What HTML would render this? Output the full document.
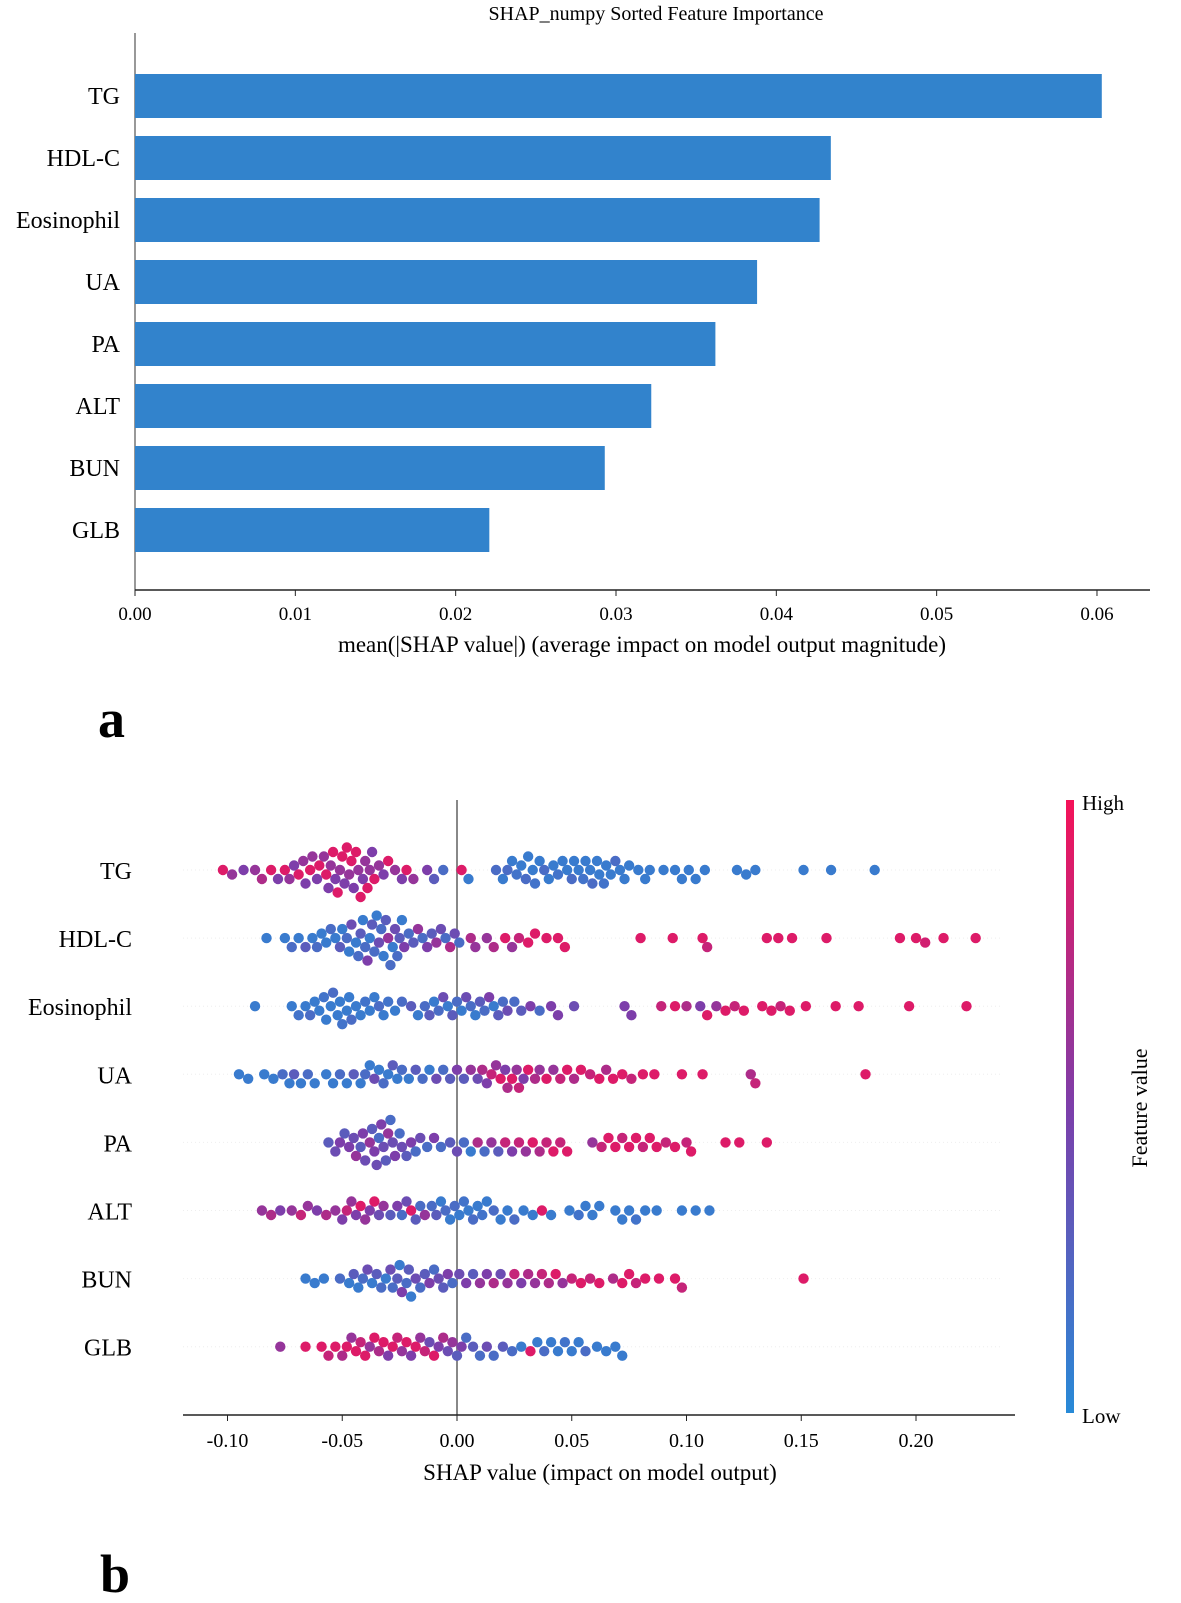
<!DOCTYPE html>
<html><head><meta charset="utf-8"><style>
html,body{margin:0;padding:0;background:#fff;}
svg{display:block;font-family:"Liberation Serif",serif;}
</style></head><body>
<svg id="fig" width="1181" height="1603" viewBox="0 0 1181 1603" xmlns="http://www.w3.org/2000/svg">
<defs><linearGradient id="cbg" x1="0" y1="0" x2="0" y2="1">
<stop offset="0" stop-color="rgb(245,18,88)"/><stop offset="0.5" stop-color="rgb(125,62,170)"/><stop offset="1" stop-color="rgb(40,138,215)"/></linearGradient></defs>
<g id="barChart">
<text x="656" y="20" text-anchor="middle" font-size="20">SHAP_numpy Sorted Feature Importance</text>
<line x1="135" y1="33" x2="135" y2="590" stroke="#555" stroke-width="1.2"/>
<line x1="135" y1="590" x2="1150" y2="590" stroke="#222" stroke-width="1.5"/>
<text x="642" y="652" text-anchor="middle" font-size="23">mean(|SHAP value|) (average impact on model output magnitude)</text>
</g>
<text x="98" y="737" font-size="54" font-weight="bold">a</text>
<g id="swarmChart">
<line x1="457" y1="800" x2="457" y2="1415" stroke="#888" stroke-width="2"/>
<line x1="183" y1="1415" x2="1015" y2="1415" stroke="#222" stroke-width="1.5"/>
<text x="600" y="1480" text-anchor="middle" font-size="23">SHAP value (impact on model output)</text>
<rect x="1066" y="800" width="8" height="613" fill="url(#cbg)"/>
<text x="1082" y="810" font-size="21">High</text>
<text x="1082" y="1423" font-size="21">Low</text>
<text transform="translate(1147,1108) rotate(-90)" text-anchor="middle" font-size="22">Feature value</text>
</g>
<text x="100" y="1592" font-size="54" font-weight="bold">b</text>
</svg>
<script>
const features=["TG","HDL-C","Eosinophil","UA","PA","ALT","BUN","GLB"];
const importance=[0.0603,0.0434,0.0427,0.0388,0.0362,0.0322,0.0293,0.0221];
const barTicks=[0,0.01,0.02,0.03,0.04,0.05,0.06];
const swarmTicks=[-0.10,-0.05,0,0.05,0.10,0.15,0.20];
// [shap value, feature value 0..1]
const tgPts=[[-0.102,0.9],[-0.098,0.6],[-0.093,0.5],[-0.088,0.6],[-0.085,0.7],[-0.081,0.9],[-0.078,0.5],[-0.075,0.9],[-0.073,0.6],[-0.071,0.5],[-0.069,0.9],[-0.067,0.6],[-0.066,0.5],[-0.064,0.9],[-0.063,0.6],[-0.061,0.5],[-0.060,0.9],[-0.058,0.6],[-0.057,0.9],[-0.056,0.5],[-0.055,0.6],[-0.054,0.9],[-0.053,0.5],[-0.052,0.9],[-0.051,0.6],[-0.050,0.9],[-0.049,0.5],[-0.048,0.9],[-0.047,0.6],[-0.046,0.9],[-0.045,0.5],[-0.044,0.9],[-0.043,0.6],[-0.042,0.9],[-0.041,0.5],[-0.040,0.6],[-0.039,0.9],[-0.038,0.6],[-0.037,0.5],[-0.036,0.9],[-0.034,0.6],[-0.032,0.5],[-0.030,0.9],[-0.027,0.6],[-0.024,0.5],[-0.022,0.9],[-0.019,0.6],[-0.013,0.5],[-0.010,0.3],[-0.006,0.2],[0.002,0.9],[0.005,0.1],
[0.017,0.2],[0.020,0.1],[0.022,0.2],[0.024,0.1],[0.026,0.15],[0.028,0.1],[0.030,0.2],[0.031,0.1],[0.033,0.1],[0.034,0.15],[0.036,0.1],[0.038,0.2],[0.040,0.1],[0.042,0.1],[0.044,0.15],[0.046,0.1],[0.048,0.1],[0.050,0.2],[0.051,0.1],[0.053,0.1],[0.055,0.15],[0.056,0.1],[0.058,0.1],[0.059,0.2],[0.061,0.1],[0.062,0.1],[0.064,0.15],[0.065,0.1],[0.067,0.1],[0.069,0.2],[0.071,0.1],[0.073,0.1],[0.075,0.1],[0.079,0.1],[0.082,0.1],[0.084,0.1],[0.090,0.1],[0.095,0.1],[0.098,0.1],[0.101,0.1],[0.104,0.1],[0.108,0.1],[0.122,0.1],[0.126,0.1],[0.130,0.1],[0.151,0.1],[0.163,0.1],[0.182,0.1]];
const hdlPts=[[-0.083,0.1],[-0.075,0.1],[-0.072,0.2],[-0.069,0.1],[-0.066,0.3],[-0.063,0.1],[-0.061,0.2],[-0.059,0.1],[-0.057,0.1],[-0.055,0.2],[-0.053,0.1],[-0.051,0.3],[-0.050,0.1],[-0.048,0.2],[-0.047,0.1],[-0.046,0.4],[-0.044,0.1],[-0.043,0.2],[-0.042,0.3],[-0.041,0.1],[-0.040,0.2],[-0.039,0.5],[-0.038,0.1],[-0.037,0.3],[-0.036,0.2],[-0.035,0.1],[-0.034,0.4],[-0.033,0.2],[-0.032,0.1],[-0.031,0.3],[-0.030,0.6],[-0.029,0.2],[-0.028,0.1],[-0.027,0.4],[-0.026,0.2],[-0.025,0.3],[-0.024,0.1],[-0.023,0.5],[-0.021,0.2],[-0.019,0.3],[-0.017,0.6],[-0.015,0.2],[-0.013,0.5],[-0.011,0.3],[-0.009,0.6],[-0.007,0.4],[-0.005,0.2],[-0.003,0.7],[-0.001,0.4],[0.001,0.2],[0.006,0.7],[0.008,0.6],[0.013,0.6],[0.016,0.7],[0.021,0.9],[0.024,0.6],[0.027,0.8],[0.031,0.9],[0.034,0.9],[0.039,0.9],[0.044,0.9],[0.047,0.9],[0.080,0.9],[0.094,0.9],[0.107,0.9],[0.109,0.8],[0.135,0.9],[0.140,0.9],[0.146,0.9],[0.161,0.9],[0.193,0.9],[0.200,0.9],[0.204,0.85],[0.212,0.9],[0.226,0.9]];
const eosPts=[[-0.088,0.1],[-0.072,0.1],[-0.069,0.15],[-0.066,0.1],[-0.064,0.2],[-0.062,0.1],[-0.060,0.1],[-0.058,0.15],[-0.057,0.1],[-0.055,0.1],[-0.054,0.2],[-0.052,0.1],[-0.051,0.1],[-0.050,0.15],[-0.048,0.1],[-0.047,0.1],[-0.046,0.2],[-0.044,0.1],[-0.042,0.1],[-0.040,0.15],[-0.038,0.1],[-0.036,0.1],[-0.034,0.2],[-0.032,0.1],[-0.030,0.15],[-0.027,0.1],[-0.024,0.2],[-0.020,0.3],[-0.017,0.1],[-0.014,0.2],[-0.012,0.3],[-0.010,0.1],[-0.008,0.2],[-0.006,0.4],[-0.004,0.1],[-0.002,0.3],[0.000,0.2],[0.002,0.1],[0.004,0.4],[0.006,0.2],[0.008,0.1],[0.010,0.3],[0.012,0.2],[0.014,0.5],[0.016,0.1],[0.018,0.3],[0.020,0.2],[0.022,0.4],[0.025,0.2],[0.028,0.3],[0.032,0.5],[0.036,0.2],[0.041,0.5],[0.044,0.5],[0.051,0.4],[0.073,0.5],[0.076,0.5],[0.089,0.8],[0.095,0.9],[0.100,0.7],[0.106,0.5],[0.109,0.9],[0.113,0.6],[0.117,0.9],[0.121,0.8],[0.125,0.9],[0.133,0.9],[0.137,0.9],[0.141,0.8],[0.145,0.9],[0.152,0.9],[0.165,0.9],[0.175,0.9],[0.197,0.9],[0.222,0.9]];
const uaPts=[[-0.095,0.1],[-0.091,0.1],[-0.084,0.1],[-0.080,0.1],[-0.076,0.2],[-0.073,0.1],[-0.071,0.3],[-0.068,0.1],[-0.065,0.2],[-0.062,0.1],[-0.057,0.1],[-0.054,0.1],[-0.051,0.2],[-0.048,0.1],[-0.045,0.3],[-0.042,0.1],[-0.040,0.2],[-0.038,0.1],[-0.036,0.4],[-0.034,0.1],[-0.032,0.2],[-0.030,0.1],[-0.028,0.3],[-0.026,0.1],[-0.024,0.2],[-0.021,0.1],[-0.018,0.3],[-0.015,0.2],[-0.012,0.1],[-0.009,0.4],[-0.006,0.2],[-0.003,0.3],[0.000,0.5],[0.003,0.3],[0.006,0.6],[0.009,0.4],[0.011,0.7],[0.013,0.5],[0.015,0.8],[0.017,0.6],[0.019,0.9],[0.021,0.5],[0.022,0.7],[0.024,0.9],[0.026,0.6],[0.027,0.8],[0.029,0.5],[0.031,0.9],[0.034,0.7],[0.036,0.6],[0.039,0.9],[0.042,0.6],[0.045,0.8],[0.048,0.9],[0.051,0.7],[0.054,0.9],[0.058,0.8],[0.062,0.9],[0.065,0.7],[0.068,0.9],[0.072,0.9],[0.076,0.8],[0.081,0.9],[0.086,0.9],[0.098,0.9],[0.107,0.9],[0.128,0.7],[0.130,0.8],[0.178,0.9]];
const paPts=[[-0.056,0.3],[-0.053,0.4],[-0.051,0.5],[-0.049,0.3],[-0.047,0.5],[-0.045,0.4],[-0.044,0.6],[-0.042,0.3],[-0.041,0.5],[-0.040,0.4],[-0.038,0.6],[-0.037,0.3],[-0.036,0.5],[-0.035,0.4],[-0.034,0.2],[-0.033,0.5],[-0.032,0.4],[-0.031,0.3],[-0.030,0.6],[-0.029,0.2],[-0.028,0.4],[-0.027,0.5],[-0.025,0.2],[-0.024,0.4],[-0.022,0.3],[-0.020,0.5],[-0.018,0.2],[-0.016,0.4],[-0.013,0.2],[-0.010,0.5],[-0.007,0.2],[-0.003,0.3],[0.000,0.4],[0.003,0.2],[0.006,0.1],[0.009,0.7],[0.012,0.2],[0.015,0.6],[0.018,0.3],[0.021,0.8],[0.024,0.5],[0.027,0.8],[0.030,0.6],[0.033,0.9],[0.036,0.7],[0.039,0.8],[0.042,0.9],[0.045,0.8],[0.048,0.9],[0.059,0.6],[0.063,0.8],[0.066,0.9],[0.069,0.9],[0.072,0.8],[0.075,0.9],[0.078,0.9],[0.081,0.8],[0.084,0.9],[0.087,0.9],[0.091,0.8],[0.095,0.9],[0.100,0.8],[0.102,0.9],[0.117,0.9],[0.123,0.9],[0.135,0.9]];
const altPts=[[-0.085,0.6],[-0.081,0.7],[-0.077,0.5],[-0.072,0.6],[-0.068,0.8],[-0.065,0.6],[-0.061,0.5],[-0.057,0.7],[-0.053,0.6],[-0.050,0.5],[-0.048,0.8],[-0.046,0.6],[-0.044,0.5],[-0.042,0.9],[-0.040,0.6],[-0.038,0.5],[-0.036,0.9],[-0.034,0.4],[-0.032,0.6],[-0.029,0.3],[-0.026,0.5],[-0.024,0.2],[-0.022,0.4],[-0.020,0.9],[-0.018,0.3],[-0.016,0.2],[-0.014,0.6],[-0.011,0.2],[-0.009,0.3],[-0.007,0.1],[-0.005,0.2],[-0.003,0.1],[-0.001,0.2],[0.001,0.1],[0.003,0.15],[0.005,0.1],[0.007,0.2],[0.009,0.1],[0.011,0.15],[0.013,0.1],[0.016,0.2],[0.019,0.1],[0.022,0.1],[0.025,0.2],[0.029,0.1],[0.033,0.1],[0.037,0.9],[0.041,0.1],[0.049,0.1],[0.053,0.15],[0.056,0.1],[0.059,0.1],[0.062,0.1],[0.069,0.1],[0.072,0.1],[0.075,0.1],[0.078,0.15],[0.082,0.1],[0.087,0.1],[0.098,0.1],[0.104,0.1],[0.110,0.1]];
const bunPts=[[-0.066,0.1],[-0.062,0.1],[-0.058,0.1],[-0.051,0.2],[-0.047,0.1],[-0.045,0.3],[-0.043,0.1],[-0.041,0.2],[-0.039,0.4],[-0.037,0.1],[-0.035,0.3],[-0.033,0.2],[-0.031,0.1],[-0.029,0.4],[-0.028,0.2],[-0.026,0.3],[-0.025,0.1],[-0.024,0.5],[-0.022,0.2],[-0.021,0.3],[-0.020,0.1],[-0.018,0.4],[-0.016,0.2],[-0.014,0.3],[-0.012,0.5],[-0.010,0.2],[-0.008,0.4],[-0.006,0.3],[-0.004,0.5],[-0.002,0.2],[0.001,0.4],[0.004,0.5],[0.007,0.3],[0.010,0.6],[0.013,0.5],[0.016,0.7],[0.019,0.4],[0.022,0.6],[0.025,0.8],[0.028,0.5],[0.031,0.7],[0.034,0.6],[0.037,0.8],[0.040,0.7],[0.043,0.9],[0.046,0.6],[0.050,0.8],[0.054,0.9],[0.058,0.8],[0.062,0.9],[0.068,0.7],[0.072,0.9],[0.075,0.9],[0.078,0.8],[0.082,0.9],[0.088,0.9],[0.095,0.9],[0.098,0.8],[0.151,0.9]];
const glbPts=[[-0.077,0.6],[-0.066,0.9],[-0.059,0.9],[-0.056,0.8],[-0.053,0.9],[-0.050,0.7],[-0.048,0.9],[-0.046,0.6],[-0.044,0.9],[-0.042,0.8],[-0.040,0.9],[-0.038,0.6],[-0.036,0.9],[-0.034,0.7],[-0.032,0.9],[-0.030,0.5],[-0.028,0.9],[-0.026,0.8],[-0.024,0.6],[-0.022,0.9],[-0.020,0.5],[-0.018,0.9],[-0.016,0.6],[-0.014,0.8],[-0.012,0.4],[-0.010,0.9],[-0.008,0.5],[-0.006,0.7],[-0.004,0.4],[-0.002,0.6],[0.000,0.3],[0.002,0.5],[0.004,0.2],[0.007,0.3],[0.010,0.2],[0.013,0.4],[0.016,0.2],[0.020,0.3],[0.024,0.2],[0.028,0.1],[0.032,0.9],[0.035,0.1],[0.038,0.2],[0.041,0.1],[0.044,0.1],[0.047,0.15],[0.050,0.1],[0.053,0.1],[0.056,0.2],[0.061,0.1],[0.065,0.1],[0.069,0.1],[0.072,0.1]];
const swarmRows=[tgPts,hdlPts,eosPts,uaPts,paPts,altPts,bunPts,glbPts];

const NS="http://www.w3.org/2000/svg";
function mk(tag,attrs,parent,txt){const e=document.createElementNS(NS,tag);for(const k in attrs)e.setAttribute(k,attrs[k]);if(txt!==undefined)e.textContent=txt;parent.appendChild(e);return e;}
const bx=v=>135+v*16033;
const by=i=>96+i*62;
const bar=document.getElementById('barChart');
features.forEach((f,i)=>{
  const r=mk('rect',{x:135,y:by(i)-22,width:bx(importance[i])-135,height:44,fill:'#3283cc'},bar);
  
  
  const t=mk('text',{x:120,y:by(i)+8,'text-anchor':'end','font-size':24},bar,f);
  
  
});
barTicks.forEach(v=>{
  mk('line',{x1:bx(v),y1:590,x2:bx(v),y2:596,stroke:'#222'},bar);
  const t=mk('text',{x:bx(v),y:620,'text-anchor':'middle','font-size':19},bar,v.toFixed(2));
  
  
});
const sx=v=>457+v*2295;
const sy=i=>870+i*68.1;
const sw=document.getElementById('swarmChart');
function col(f){
  const a=[40,138,215],m=[125,62,170],b=[245,18,88];
  let c;if(f<0.5){const t=f/0.5;c=a.map((x,k)=>x+(m[k]-x)*t);}else{const t=(f-0.5)/0.5;c=m.map((x,k)=>x+(b[k]-x)*t);}
  return 'rgb('+c.map(Math.round).join(',')+')';
}
swarmTicks.forEach(v=>{
  mk('line',{x1:sx(v),y1:1415,x2:sx(v),y2:1421,stroke:'#222'},sw);
  const t=mk('text',{x:sx(v),y:1447,'text-anchor':'middle','font-size':20},sw,v.toFixed(2));
  
  
});
features.forEach((f,i)=>{
  const cy=sy(i);
  mk('line',{x1:183,y1:cy,x2:1000,y2:cy,stroke:'#eee','stroke-dasharray':'1,3'},sw);
  const t=mk('text',{x:132,y:cy+9,'text-anchor':'end','font-size':24},sw,f);
  
  
  const pts=swarmRows[i].slice().sort((a,b)=>a[0]-b[0]);
  const placed=[];
  pts.forEach(p=>{
    const x=sx(p[0]);let off=0;
    for(let k=0;k<14;k++){
      const o=(k%2?1:-1)*Math.ceil(k/2)*4.5;
      if(!placed.some(q=>Math.hypot(q[0]-x,q[1]-o)<9.5)){off=o;break;}
      off=o;
    }
    placed.push([x,off]);
    const c=mk('circle',{cx:x,cy:cy+off,r:5.2,fill:col(p[1])},sw);
    
    
  });
});
</script>
</body></html>
